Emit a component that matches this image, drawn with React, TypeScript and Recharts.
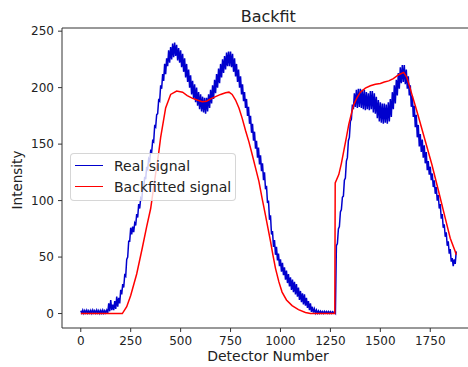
import React from 'react';
import { LineChart, Line, XAxis, YAxis, ReferenceLine, Legend } from 'recharts';

// axis ticks
const xTicks = [0, 250, 500, 750, 1000, 1250, 1500, 1750];
const yTicks = [0, 50, 100, 150, 200, 250];

// Real signal: top of the noise band at detectors 0, 10, 20 ... 1880
const realUpper = [
  2.5, 3, 2.7, 3, 2.5, 2.8, 3, 2.6, 3, 2.7,
  2.8, 3, 2.6, 3, 9, 12, 8, 11, 15, 14,
  21, 26, 34, 48, 64, 76, 77, 80, 88, 97,
  102, 111, 121, 130, 137, 144, 153, 166, 176, 189,
  202, 212, 221, 226, 233, 236, 239, 240, 238, 235,
  233, 230, 226, 221, 216, 211, 206, 203, 200, 196,
  194, 192, 191, 191, 194, 198, 202, 207, 212, 217,
  221, 225, 228, 231, 232, 232, 230, 226, 221, 216,
  210, 203, 196, 190, 183, 175, 168, 161, 153, 147,
  140, 133, 125, 113, 100, 87, 73, 65, 59, 53,
  48, 45, 41, 38, 35, 32, 30, 28, 26, 23,
  20, 18, 17, 14, 11, 9, 6, 4, 3, 2.3,
  2, 1.8, 2, 1.8, 1.8, 1.7, 1.5, 1.5, 60, 75,
  90, 103, 118, 135, 153, 170, 185, 195, 198, 199,
  199, 198, 198, 196, 195, 197, 197, 195, 192, 189,
  187, 186, 186, 185, 187, 190, 196, 202, 207, 213,
  218, 220, 220, 216, 210, 202, 193, 184, 176, 167,
  159, 154, 149, 143, 135, 130, 124, 118, 112, 105,
  97, 88, 79, 72, 64, 57, 49, 48, 55,
];
// ...and bottom of the band at detectors 5, 15, 25 ... 1875
const realLower = [
  0.5, 0.3, 0.6, 0.4, 0.5, 0.3, 0.6, 0.4, 0.5, 0.3,
  0.5, 0.4, 0.6, 0.5, 2, 3, 3, 4, 6, 9,
  17, 23, 33, 50, 64, 70, 72, 78, 85, 93,
  100, 110, 119, 128, 135, 143, 152, 165, 177, 188,
  199, 206, 212, 219, 222, 225, 227, 228, 224, 222,
  218, 214, 209, 205, 200, 194, 190, 187, 184, 181,
  179, 178, 177, 179, 182, 186, 190, 195, 200, 204,
  209, 213, 216, 219, 219, 218, 214, 210, 205, 200,
  194, 188, 182, 175, 168, 160, 153, 146, 138, 132,
  126, 118, 110, 98, 83, 70, 59, 52, 47, 42,
  37, 34, 30, 27, 24, 21, 19, 17, 15, 12,
  10, 8, 7, 5, 3, 1.5, 0.8, 0.5, 0.3, 0.2,
  0.3, 0.2, 0.4, 0.2, 0.3, 0.2, 0.4, 0.3, 62, 77,
  92, 104, 120, 138, 156, 172, 181, 183, 182, 183,
  182, 181, 180, 181, 180, 181, 178, 177, 173, 170,
  169, 168, 169, 168, 170, 174, 181, 186, 193, 199,
  204, 205, 203, 199, 193, 183, 174, 165, 156, 148,
  143, 138, 133, 127, 123, 118, 112, 106, 100, 93,
  84, 76, 68, 60, 53, 46, 42, 44,
];
const realStep = 10;

// Backfitted signal
const fitX = [
  0, 208, 230, 250, 280, 308, 330, 350, 370, 390,
  400, 425, 450, 480, 510, 533, 560, 583, 608, 630,
  650, 675, 700, 725, 742, 758, 775, 792, 808, 825,
  842, 858, 875, 892, 908, 925, 938, 950, 962, 975,
  992, 1008, 1030, 1058, 1090, 1125, 1150, 1272, 1274, 1292,
  1305, 1317, 1330, 1342, 1355, 1367, 1383, 1400, 1425, 1450,
  1475, 1500, 1520, 1542, 1565, 1592, 1617, 1633, 1645, 1658,
  1675, 1692, 1725, 1758, 1792, 1825, 1850, 1875, 1880,
];
const fitY = [
  0, 0, 6, 16, 35, 58, 77, 93, 118, 142,
  156, 182, 194, 197, 196, 193, 190.5, 189, 187.5, 188,
  190, 192, 194, 195.5, 196, 194, 189, 182, 173, 162,
  152, 141, 129, 117, 102, 87, 75, 64, 52, 40,
  28, 19, 12, 7, 3.5, 1, 0, 0, 115.6, 123,
  133, 144, 156, 167.5, 177, 185, 191, 196, 199.5, 201.7,
  203, 203.7, 205, 206, 208, 211.4, 213.5, 209, 202, 194,
  184, 173.5, 152.7, 132, 108, 84.5, 66.7, 55, 52,
];

const BLUE = '#0000cd';
const RED = '#ff0000';
const FONT = '"DejaVu Sans", sans-serif';
const INK = '#222';

const realData: { x: number; y: number }[] = [];
realUpper.forEach((v, i) => {
  realData.push({ x: i * realStep, y: v });
  if (i < realLower.length) realData.push({ x: i * realStep + realStep / 2, y: realLower[i] });
});
const fitData = fitX.map((x, i) => ({ x, y: fitY[i] }));

const legendItems = [
  { name: 'Real signal', color: BLUE },
  { name: 'Backfitted signal', color: RED },
];

function BackfitLegend() {
  return (
    <div
      style={{
        position: 'relative',
        width: 166,
        height: 48,
        boxSizing: 'border-box',
        border: '1px solid rgba(204,204,204,0.8)',
        borderRadius: 4,
        background: 'rgba(255,255,255,0.8)',
        fontFamily: FONT,
        fontSize: 14,
        color: INK,
      }}
    >
      {legendItems.map((item, i) => {
        const cy = 11.5 + i * 21;
        return (
          <React.Fragment key={item.name}>
            <div style={{ position: 'absolute', left: 4, top: cy - 0.75, width: 28, height: 1.5, background: item.color }} />
            <div style={{ position: 'absolute', left: 43, top: cy - 8, lineHeight: '16px', whiteSpace: 'nowrap' }}>
              {item.name}
            </div>
          </React.Fragment>
        );
      })}
    </div>
  );
}

export default function App() {
  return (
    <div style={{ position: 'fixed', left: 0, top: 0, width: 468, height: 367, overflow: 'hidden', background: '#fff' }}>
      <LineChart width={480} height={367} margin={{ top: 28, right: 5, bottom: 0, left: 0 }}>
        <XAxis
          type="number"
          dataKey="x"
          domain={[-94, 1974]}
          ticks={xTicks}
          interval={0}
          height={39}
          tickSize={4}
          tickMargin={4}
          stroke="#333"
          tick={{ fontSize: 12, fill: INK, fontFamily: FONT }}
        />
        <YAxis
          type="number"
          domain={[-12.8, 252.8]}
          ticks={yTicks}
          interval={0}
          width={62}
          tickSize={4}
          tickMargin={4}
          stroke="#333"
          tick={{ fontSize: 12, fill: INK, fontFamily: FONT }}
        />
        <ReferenceLine y={252.8} stroke="#333" />
        <Line
          data={realData}
          dataKey="y"
          type="linear"
          name="Real signal"
          stroke={BLUE}
          strokeWidth={1.5}
          dot={false}
          isAnimationActive={false}
        />
        <Line
          data={fitData}
          dataKey="y"
          type="linear"
          name="Backfitted signal"
          stroke={RED}
          strokeWidth={1.5}
          dot={false}
          isAnimationActive={false}
        />
        <Legend
          layout="horizontal"
          align="center"
          verticalAlign="middle"
          width={166}
          height={48}
          wrapperStyle={{ left: 70, top: 153, width: 166, height: 48 }}
          content={() => <BackfitLegend />}
        />
      </LineChart>
      <div
        style={{
          position: 'absolute', left: 268.3, top: 9, transform: 'translateX(-50%)',
          fontFamily: FONT, fontSize: 16, lineHeight: 1, color: INK, whiteSpace: 'nowrap',
        }}
      >
        Backfit
      </div>
      <div
        style={{
          position: 'absolute', left: 268, top: 348.6, transform: 'translateX(-50%)',
          fontFamily: FONT, fontSize: 14, lineHeight: 1, color: INK, whiteSpace: 'nowrap',
        }}
      >
        Detector Number
      </div>
      <div
        style={{
          position: 'absolute', left: 17.8, top: 180, transform: 'translate(-50%, -50%) rotate(-90deg)',
          fontFamily: FONT, fontSize: 13.5, lineHeight: 1, color: INK, whiteSpace: 'nowrap',
        }}
      >
        Intensity
      </div>
    </div>
  );
}
